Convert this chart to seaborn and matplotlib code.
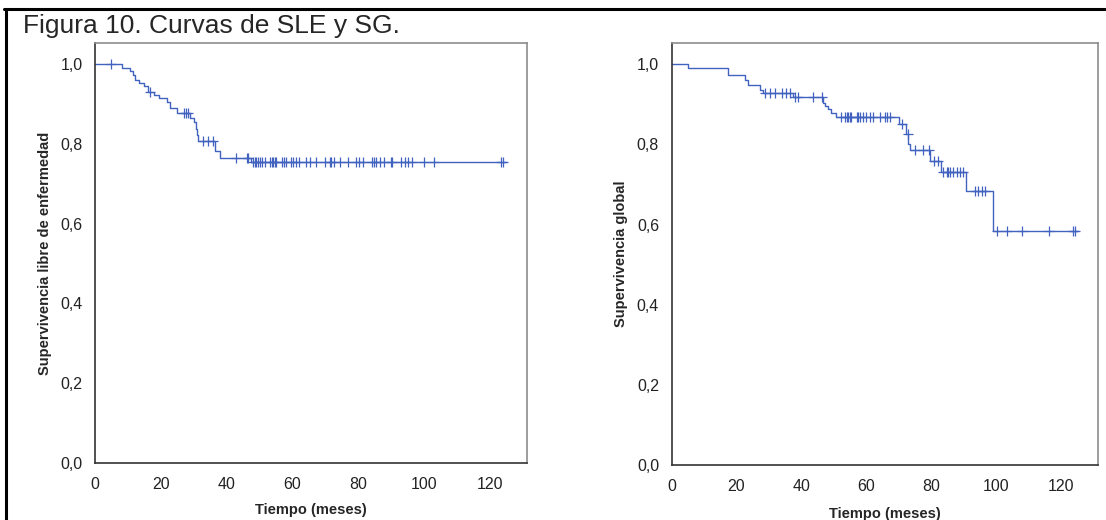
import numpy as np
import pandas as pd
import seaborn as sns
import matplotlib
matplotlib.use("Agg")
import matplotlib.pyplot as plt
from matplotlib.lines import Line2D

# --- datos (meses, supervivencia) ---
sle_tiempos = [0, 8.3, 10.6, 11.6, 12.3, 13.5, 14.8, 16.2, 17.8, 19.6, 21.8, 22.9,
               25.0, 28.9, 30.1, 30.7, 31.0, 31.4, 36.5, 38.0, 47.6]
sle_superv = [1.0, 0.990, 0.982, 0.973, 0.961, 0.952, 0.944, 0.931, 0.923, 0.914,
              0.905, 0.889, 0.878, 0.866, 0.856, 0.838, 0.822, 0.808, 0.781, 0.764, 0.754]
sle_fin = 125.1
sle_censuras = [5.0, 16.7, 27.2, 27.8, 28.3, 32.9, 34.5, 35.9, 42.9, 46.1, 46.6,
                48.1, 48.6, 49.1, 49.6, 50.2, 50.7, 51.7, 53.2, 53.7, 54.2, 54.7,
                55.2, 57.0, 57.5, 58.0, 59.5, 60.3, 61.1, 62.1, 64.1, 65.3, 67.2,
                69.9, 71.4, 71.9, 72.6, 74.5, 77.0, 79.3, 80.3, 81.6, 84.3, 84.8,
                85.4, 86.8, 87.8, 89.9, 90.2, 93.2, 94.2, 95.2, 96.3, 100.0, 103.0,
                123.6, 124.1]

sg_tiempos = [0, 5.1, 17.3, 22.6, 23.6, 27.2, 28.2, 37.5, 46.7, 47.4, 48.1, 49.2,
              50.6, 70.1, 72.2, 72.9, 73.5, 79.6, 83.0, 90.6, 98.9]
sg_superv = [1.0, 0.990, 0.972, 0.960, 0.947, 0.935, 0.927, 0.919, 0.904, 0.896,
             0.888, 0.879, 0.868, 0.850, 0.827, 0.800, 0.785, 0.759, 0.730, 0.684, 0.585]
sg_fin = 125.3
sg_censuras = [28.7, 30.3, 31.8, 33.9, 35.4, 36.4, 38.0, 39.0, 43.7, 46.3,
               52.1, 53.4, 53.9, 54.4, 54.9, 55.3, 57.0, 57.5, 58.1, 58.9, 59.9,
               61.1, 62.2, 64.2, 65.8, 66.5, 67.3, 71.1, 72.7, 75.0, 77.4, 79.4,
               80.8, 82.2, 83.5, 84.8, 85.3, 85.8, 86.8, 87.9, 88.9, 89.9,
               93.5, 94.5, 95.6, 96.6, 100.4, 103.3, 107.9, 116.4, 123.8, 124.4]

x_ticks = [0, 20, 40, 60, 80, 100, 120]
y_ticks = [0.0, 0.2, 0.4, 0.6, 0.8, 1.0]
y_etiquetas = ["0,0", "0,2", "0,4", "0,6", "0,8", "1,0"]

titulo = "Figura 10. Curvas de SLE y SG."
ylab_izq = "Supervivencia libre de enfermedad"
ylab_der = "Supervivencia global"
xlab = "Tiempo (meses)"

AZUL = "#4262c0"

sns.set_style("white")
plt.rcParams["font.family"] = ["Liberation Sans", "DejaVu Sans"]


def curva_km(ax, tiempos, superv, fin, censuras):
    t = list(tiempos) + [fin]
    s = list(superv) + [superv[-1]]
    df = pd.DataFrame({"t": t, "s": s})
    sns.lineplot(data=df, x="t", y="s", drawstyle="steps-post", color=AZUL,
                 linewidth=1.0, sort=False, estimator=None, ax=ax)
    idx = np.searchsorted(np.array(tiempos), np.array(censuras), side="right") - 1
    dc = pd.DataFrame({"t": censuras, "s": np.array(superv)[idx]})
    sns.scatterplot(data=dc, x="t", y="s", marker="+", s=45, color=AZUL,
                    linewidth=0.9, ax=ax)


def formato(ax, ylab, xlab_y):
    ax.set_xlim(0, 131.4)
    ax.set_ylim(0, 1.053)
    ax.set_xticks(x_ticks)
    ax.set_xticklabels([str(v) for v in x_ticks])
    ax.set_yticks(y_ticks)
    ax.set_yticklabels(y_etiquetas)
    ax.tick_params(axis="both", direction="out", length=8, width=1.2,
                   colors="#222222", labelsize=11.5, pad=2)
    ax.tick_params(axis="y", pad=1)
    for lado in ["left", "bottom"]:
        ax.spines[lado].set_color("#333333")
        ax.spines[lado].set_linewidth(1.2)
    for lado in ["top", "right"]:
        ax.spines[lado].set_color("#8c8c8c")
        ax.spines[lado].set_linewidth(1.2)
    ax.set_ylabel(ylab, fontsize=10.5, fontweight="bold", labelpad=6)
    ax.set_xlabel(xlab, fontsize=10.5, fontweight="bold")
    ax.xaxis.set_label_coords(0.5, xlab_y)


fig = plt.figure(figsize=(11.06, 5.2), dpi=100)
ax1 = fig.add_axes([0.0859, 0.1096, 0.3906, 0.8077])
ax2 = fig.add_axes([0.6072, 0.1058, 0.3856, 0.8115])

curva_km(ax1, sle_tiempos, sle_superv, sle_fin, sle_censuras)
curva_km(ax2, sg_tiempos, sg_superv, sg_fin, sg_censuras)
formato(ax1, ylab_izq, -0.095)
formato(ax2, ylab_der, -0.1)

fig.text(0.0205, 0.9365, titulo, fontsize=19, va="baseline", ha="left")
fig.add_artist(Line2D([0.0036, 1.0], [0.9827, 0.9827], color="black", linewidth=2.2,
                      transform=fig.transFigure))
fig.add_artist(Line2D([0.0054, 0.0054], [0.0, 0.9827], color="black", linewidth=2.2,
                      transform=fig.transFigure))

fig.savefig("out.png", dpi=100)
